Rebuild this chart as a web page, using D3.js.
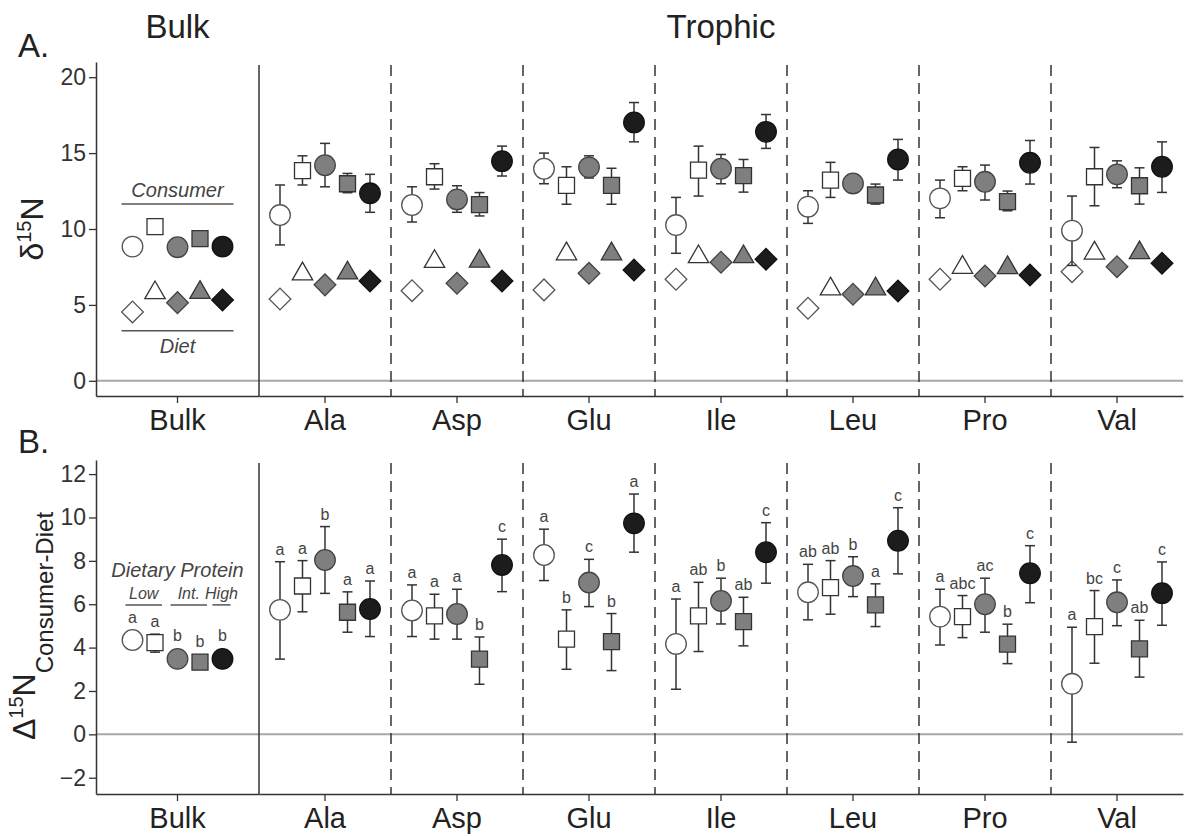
<!DOCTYPE html>
<html>
<head>
<meta charset="utf-8">
<script src="https://cdn.jsdelivr.net/npm/d3@7"></script>
<style>
  body { margin: 0; background: #fff; }
  svg text { font-family: "Liberation Sans", Arial, Helvetica, sans-serif; fill: #222; }
</style>
</head>
<body>
<div id="chart"></div>
<script>
// categories (x) and dietary-protein groups (5 markers per category)
var categories = ["Bulk", "Ala", "Asp", "Glu", "Ile", "Leu", "Pro", "Val"];
var trophic = categories.slice(1);
var series = ["Low 1", "Low 2", "Int 1", "Int 2", "High"];

// Panel A: consumer d15N, one row per series, one column per category
var consumerMean = [
  [8.84, 10.92, 11.58, 13.97, 10.26, 11.47, 12.02, 9.89],
  [10.15, 13.84, 13.44, 12.87, 13.88, 13.22, 13.33, 13.44],
  [8.80, 14.20, 11.95, 14.06, 13.97, 13.00, 13.11, 13.60],
  [9.36, 12.98, 11.60, 12.87, 13.51, 12.24, 11.80, 12.85],
  [8.84, 12.35, 14.47, 17.02, 16.40, 14.58, 14.36, 14.10]
];
var consumerHi = [
  [null, 12.90, 12.78, 15.00, 12.08, 12.52, 13.22, 12.17],
  [null, 14.82, 14.30, 14.10, 15.46, 14.39, 14.10, 15.37],
  [null, 15.64, 12.85, 14.82, 14.91, 13.25, 14.21, 14.49],
  [null, 13.66, 12.40, 14.00, 14.58, 12.96, 12.50, 14.03],
  [null, 13.60, 15.46, 18.33, 17.54, 15.90, 15.83, 15.74]
];
var consumerLo = [
  [null, 8.95, 10.46, 12.98, 8.40, 10.37, 10.74, 7.60],
  [null, 12.90, 12.63, 11.63, 12.17, 12.08, 12.52, 11.53],
  [null, 12.78, 11.10, 13.36, 12.98, 12.75, 11.91, 12.72],
  [null, 12.39, 10.86, 11.63, 12.43, 11.64, 11.20, 11.64],
  [null, 11.10, 13.49, 15.74, 15.31, 13.22, 12.96, 12.41]
];
// Panel A: diet d15N
var dietMean = [
  [4.54, 5.39, 5.94, 5.99, 6.69, 4.78, 6.69, 7.19],
  [5.80, 7.04, 7.86, 8.36, 8.17, 6.05, 7.47, 8.41],
  [5.15, 6.32, 6.42, 7.08, 7.81, 5.70, 6.91, 7.52],
  [5.82, 7.10, 7.87, 8.36, 8.17, 6.05, 7.45, 8.43],
  [5.33, 6.58, 6.58, 7.30, 8.00, 5.92, 6.97, 7.74]
];

// Panel B: trophic discrimination (consumer - diet)
var deltaMean = [
  [4.35, 5.74, 5.71, 8.27, 4.17, 6.55, 5.43, 2.33],
  [4.23, 6.84, 5.46, 4.39, 5.46, 6.77, 5.43, 4.97],
  [3.48, 8.04, 5.55, 7.00, 6.15, 7.30, 6.00, 6.09],
  [3.33, 5.63, 3.47, 4.28, 5.20, 5.97, 4.16, 3.94],
  [3.48, 5.78, 7.81, 9.73, 8.40, 8.93, 7.43, 6.51]
];
var deltaHi = [
  [null, 7.96, 6.89, 9.46, 6.24, 7.84, 6.69, 4.94],
  [4.62, 8.01, 6.46, 5.74, 7.01, 8.01, 6.40, 6.63],
  [null, 9.58, 6.69, 8.07, 7.20, 8.19, 7.20, 7.12],
  [null, 6.57, 4.49, 5.57, 6.32, 6.94, 5.08, 5.26],
  [null, 7.07, 9.00, 11.08, 9.76, 10.45, 8.70, 7.95]
];
var deltaLo = [
  [null, 3.47, 4.51, 7.09, 2.08, 5.28, 4.12, -0.36],
  [3.79, 5.65, 4.39, 3.00, 3.82, 5.54, 4.46, 3.28],
  [null, 6.50, 4.39, 5.89, 5.09, 6.35, 4.71, 5.01],
  [null, 4.71, 2.31, 2.94, 4.08, 4.97, 3.26, 2.64],
  [null, 4.51, 6.58, 8.40, 6.97, 7.40, 6.07, 5.03]
];
var deltaLetters = [
  ["a", "a", "a", "a", "a", "ab", "a", "a"],
  ["a", "a", "a", "b", "ab", "ab", "abc", "bc"],
  ["b", "b", "a", "c", "b", "b", "ac", "c"],
  ["b", "a", "b", "b", "ab", "a", "b", "ab"],
  ["b", "a", "c", "a", "c", "c", "c", "c"]
];

var ticksA = [0, 5, 10, 15, 20];
var ticksB = [-2, 0, 2, 4, 6, 8, 10, 12];

// marker styles per series
var fills = ["#ffffff", "#ffffff", "#7f7f7f", "#7f7f7f", "#1c1c1c"];
var strokes = ["#555", "#333", "#444", "#333", "#111"];
var consumerShape = ["circle", "square", "circle", "square", "circle"];
var dietShape = ["diamond", "triangle", "diamond", "triangle", "diamond"];

// set up graph boundaries
var svgWidth = 1186;
var svgHeight = 836;
var plotLeft = 96, plotRight = 1183, bulkEdge = 259;

var svg = d3.select("#chart")
  .append("svg")
  .attr("width", svgWidth)
  .attr("height", svgHeight);

svg.append("rect").attr("width", svgWidth).attr("height", svgHeight).attr("fill", "#fff");

var xBulk = d3.scaleBand().domain(["Bulk"]).range([plotLeft, bulkEdge]);
var xTroph = d3.scaleBand().domain(trophic).range([bulkEdge, plotRight]);
var xOffset = d3.scalePoint().domain(series).range([-45, 45]);

function xCenter(c) {
  return c === "Bulk" ? xBulk(c) + xBulk.bandwidth() / 2 : xTroph(c) + xTroph.bandwidth() / 2;
}

var yA = d3.scaleLinear().domain([-1, 21]).range([396, 62]);
var yB = d3.scaleLinear().domain([-2.75, 12.65]).range([794, 460]);

var symbolPath = {
  circle: d3.symbol(d3.symbolCircle, Math.PI * 10.3 * 10.3)(),
  square: d3.symbol(d3.symbolSquare, 256)(),
  triangle: d3.symbol(d3.symbolTriangle, 180)(),
  diamond: d3.symbol(d3.symbolSquare, 235)()
};
var halfHeight = { circle: 10.5, square: 8.5 };

function buildRows(means, his, los, shapes) {
  var rows = [];
  means.forEach(function(row, s) {
    row.forEach(function(v, c) {
      rows.push({
        series: series[s], s: s, cat: categories[c], c: c, value: v,
        hi: his ? his[s][c] : null, lo: los ? los[s][c] : null, shape: shapes[s]
      });
    });
  });
  return rows;
}

function drawFrame(y, ticks) {
  var g = svg.append("g");
  var top = y.range()[1], bottom = y.range()[0];

  // zero line
  g.append("line")
    .attr("x1", plotLeft).attr("x2", plotRight)
    .attr("y1", y(0)).attr("y2", y(0))
    .attr("stroke", "#a8a8a8").attr("stroke-width", 2);

  // bulk / trophic separator
  g.append("line")
    .attr("x1", bulkEdge).attr("x2", bulkEdge)
    .attr("y1", top + 3).attr("y2", bottom)
    .attr("stroke", "#333").attr("stroke-width", 1.5);

  // dashed separators between amino acids
  g.selectAll(".sep")
    .data(trophic.slice(1))
    .enter()
    .append("line")
    .attr("x1", d => xTroph(d)).attr("x2", d => xTroph(d))
    .attr("y1", top + 3).attr("y2", bottom)
    .attr("stroke", "#333").attr("stroke-width", 1.5)
    .attr("stroke-dasharray", "11,7");

  // axes
  var leftAxis = d3.axisLeft(y).tickValues(ticks).tickSize(7).tickSizeOuter(0).tickPadding(3);
  var ga = g.append("g").attr("transform", `translate(${plotLeft},0)`).call(leftAxis);
  ga.selectAll("text").style("font-size", "23px").style("fill", "#333");

  var axB = g.append("g").attr("transform", `translate(0,${bottom})`)
    .call(d3.axisBottom(xBulk).tickSize(7).tickSizeOuter(0).tickPadding(6));
  var axT = g.append("g").attr("transform", `translate(0,${bottom})`)
    .call(d3.axisBottom(xTroph).tickSize(7).tickSizeOuter(0).tickPadding(6));
  [ga, axB, axT].forEach(function(a) {
    a.select(".domain").attr("stroke", "#333").attr("stroke-width", 1.5);
    a.selectAll(".tick line").attr("stroke", "#333").attr("stroke-width", 1.3);
  });
  [axB, axT].forEach(function(a) {
    a.selectAll("text").style("font-size", "29px").style("fill", "#222");
  });
  return g;
}

function drawPoints(g, rows, y) {
  var withErr = rows.filter(d => d.hi !== null && d.lo !== null);

  g.selectAll(".err")
    .data(withErr)
    .enter()
    .append("line")
    .attr("x1", d => xCenter(d.cat) + xOffset(d.series))
    .attr("x2", d => xCenter(d.cat) + xOffset(d.series))
    .attr("y1", d => y(d.hi)).attr("y2", d => y(d.lo))
    .attr("stroke", "#333").attr("stroke-width", 1.5);

  ["hi", "lo"].forEach(function(k) {
    g.selectAll(".cap-" + k)
      .data(withErr)
      .enter()
      .append("line")
      .attr("x1", d => xCenter(d.cat) + xOffset(d.series) - 5)
      .attr("x2", d => xCenter(d.cat) + xOffset(d.series) + 5)
      .attr("y1", d => y(d[k])).attr("y2", d => y(d[k]))
      .attr("stroke", "#333").attr("stroke-width", 1.5);
  });

  g.selectAll(".pt")
    .data(rows)
    .enter()
    .append("path")
    .attr("d", d => symbolPath[d.shape])
    .attr("transform", d => `translate(${xCenter(d.cat) + xOffset(d.series)},${y(d.value)})` + (d.shape === "diamond" ? " rotate(45)" : ""))
    .attr("fill", d => fills[d.s])
    .attr("stroke", d => strokes[d.s])
    .attr("stroke-width", 1.3);
}

// ---------- Panel A ----------
var gA = drawFrame(yA, ticksA);
drawPoints(gA, buildRows(dietMean, null, null, dietShape), yA);
drawPoints(gA, buildRows(consumerMean, consumerHi, consumerLo, consumerShape), yA);

// ---------- Panel B ----------
var gB = drawFrame(yB, ticksB);
var deltaRows = buildRows(deltaMean, deltaHi, deltaLo, consumerShape);
drawPoints(gB, deltaRows, yB);

// significance letters
gB.selectAll(".letter")
  .data(deltaRows)
  .enter()
  .append("text")
  .attr("x", d => xCenter(d.cat) + xOffset(d.series))
  .attr("y", function(d) {
    var topPx = yB(d.value) - halfHeight[d.shape];
    if (d.hi !== null) topPx = Math.min(topPx, yB(d.hi));
    return topPx - 7;
  })
  .attr("text-anchor", "middle")
  .style("font-size", "16px")
  .style("fill", "#444")
  .text(d => deltaLetters[d.s][d.c]);

// ---------- legends inside bulk panel ----------
var bx = xCenter("Bulk");
var legendLine = [bx - 56, bx + 56];

svg.append("line").attr("x1", legendLine[0]).attr("x2", legendLine[1])
  .attr("y1", yA(11.65)).attr("y2", yA(11.65)).attr("stroke", "#555").attr("stroke-width", 1.5);
svg.append("text").attr("x", bx).attr("y", yA(11.65) - 7)
  .attr("text-anchor", "middle").style("font-size", "20px").style("font-style", "italic").style("fill", "#444")
  .text("Consumer");
svg.append("line").attr("x1", legendLine[0]).attr("x2", legendLine[1])
  .attr("y1", yA(3.3)).attr("y2", yA(3.3)).attr("stroke", "#555").attr("stroke-width", 1.5);
svg.append("text").attr("x", bx).attr("y", yA(3.3) + 22)
  .attr("text-anchor", "middle").style("font-size", "20px").style("font-style", "italic").style("fill", "#444")
  .text("Diet");

svg.append("text").attr("x", bx).attr("y", yB(7.26))
  .attr("text-anchor", "middle").style("font-size", "20px").style("font-style", "italic").style("fill", "#444")
  .text("Dietary Protein");

var groupLabels = ["Low", "Int.", "High"];
var groupSpan = [["Low 1", "Low 2"], ["Int 1", "Int 2"], ["High", "High"]];
groupLabels.forEach(function(lab, i) {
  var x0 = bx + xOffset(groupSpan[i][0]) - (i === 2 ? 10 : 7);
  var x1 = bx + xOffset(groupSpan[i][1]) + (i === 2 ? 8 : 7);
  svg.append("line").attr("x1", x0).attr("x2", x1)
    .attr("y1", yB(5.97)).attr("y2", yB(5.97)).attr("stroke", "#555").attr("stroke-width", 1.5);
  svg.append("text").attr("x", (x0 + x1) / 2).attr("y", yB(6.25))
    .attr("text-anchor", "middle").style("font-size", "16px").style("font-style", "italic").style("fill", "#444")
    .text(lab);
});

// ---------- titles and axis labels ----------
svg.append("text").attr("x", bx).attr("y", 38).attr("text-anchor", "middle")
  .style("font-size", "33px").text("Bulk");
svg.append("text").attr("x", (bulkEdge + plotRight) / 2).attr("y", 38).attr("text-anchor", "middle")
  .style("font-size", "33px").text("Trophic");
svg.append("text").attr("x", 18).attr("y", 57).style("font-size", "33px").text("A.");
svg.append("text").attr("x", 18).attr("y", 453).style("font-size", "33px").text("B.");

var labA = svg.append("text")
  .attr("transform", `translate(43, ${(yA.range()[0] + yA.range()[1]) / 2}) rotate(-90)`)
  .attr("text-anchor", "middle")
  .style("font-size", "32px");
labA.append("tspan").text("δ");
labA.append("tspan").attr("dy", -12).style("font-size", "20px").text("15");
labA.append("tspan").attr("dy", 12).text("N");

var labB = svg.append("text")
  .attr("transform", `translate(35, 626) rotate(-90)`)
  .attr("text-anchor", "middle")
  .style("font-size", "32px");
labB.append("tspan").text("Δ");
labB.append("tspan").attr("dy", -12).style("font-size", "20px").text("15");
labB.append("tspan").attr("dy", 12).text("N");
labB.append("tspan").attr("dy", 18).style("font-size", "24px").text("Consumer-Diet");
</script>
</body>
</html>
